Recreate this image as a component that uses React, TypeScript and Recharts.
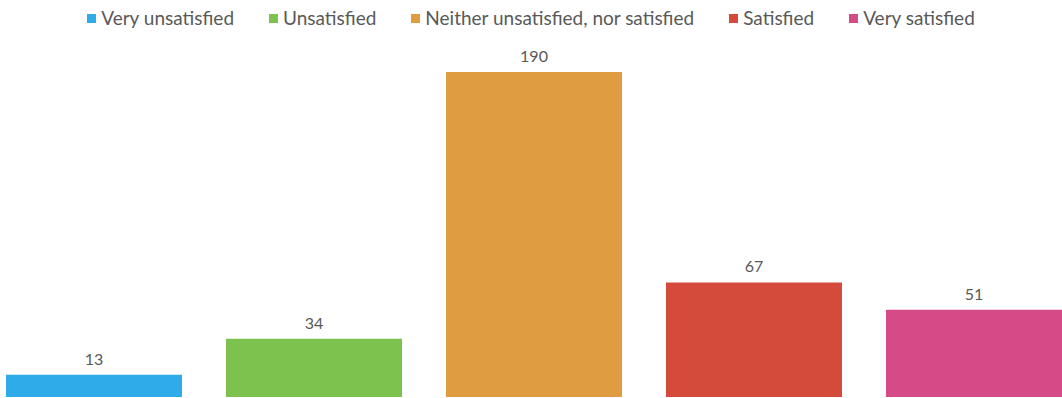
import React from 'react'
import { BarChart, Bar, XAxis, YAxis, Cell, LabelList } from 'recharts'

const categories = [
  'Very unsatisfied',
  'Unsatisfied',
  'Neither unsatisfied, nor satisfied',
  'Satisfied',
  'Very satisfied',
]
const responses = [13, 34, 190, 67, 51]
const colors = ['#2fabe9', '#7dc24f', '#e09c40', '#d44b3b', '#d64a87']

const data = categories.map((name, i) => ({ name, count: responses[i] }))

const font = "Lato, 'Open Sans', sans-serif"
const textColor = '#595959'

function LegendRow() {
  return (
    <div style={{
      position: 'absolute', top: 8, left: 0, width: 1062,
      display: 'flex', justifyContent: 'center', gap: 35,
      fontFamily: font, fontSize: 19, color: textColor, lineHeight: '20px',
    }}>
      {categories.map((c, i) => (
        <div key={c} style={{ display: 'flex', alignItems: 'center', whiteSpace: 'nowrap' }}>
          <span style={{ width: 9, height: 9, background: colors[i], marginRight: 5, display: 'inline-block' }} />
          {c}
        </div>
      ))}
    </div>
  )
}

export default function App() {
  return (
    <div style={{
      position: 'absolute', top: 0, left: 0, width: 1062, height: 398,
      overflow: 'hidden', background: '#fff',
    }}>
      <LegendRow />
      <div style={{ position: 'absolute', top: 0, left: -16 }}>
        <BarChart
          width={1100} height={398} data={data}
          margin={{ top: 72, right: 0, bottom: 1, left: 0 }}
          barCategoryGap="10%"
        >
          <XAxis dataKey="name" hide />
          <YAxis hide domain={[0, 190]} />
          <Bar dataKey="count" isAnimationActive={false}>
            {data.map((d, i) => (
              <Cell key={d.name} fill={colors[i]} />
            ))}
            <LabelList
              dataKey="count" position="top" offset={10}
              style={{ fill: textColor, fontFamily: font, fontSize: 16 }}
            />
          </Bar>
        </BarChart>
      </div>
    </div>
  )
}
